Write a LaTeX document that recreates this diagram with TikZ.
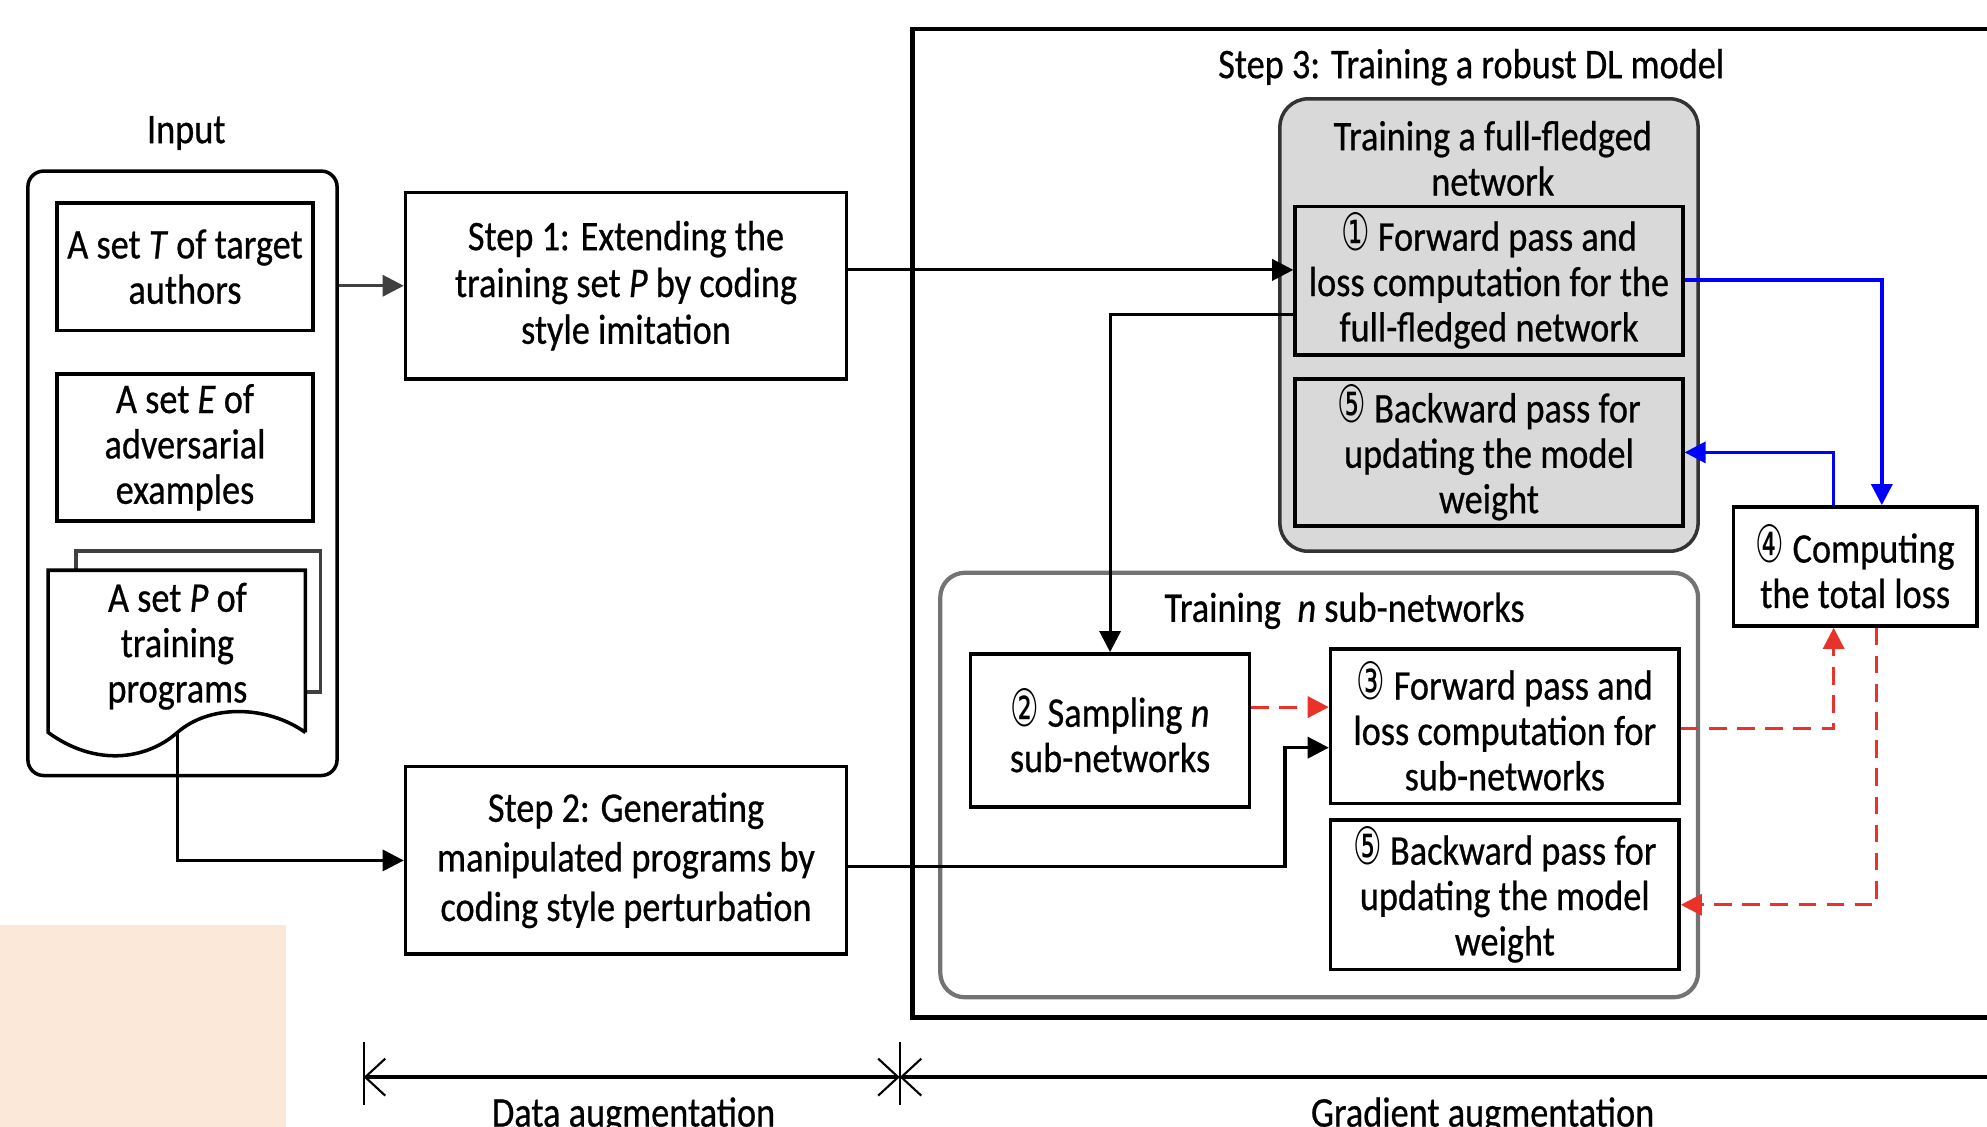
\documentclass[tikz,border=0pt]{standalone}
\usepackage{fontspec}
\setmainfont{Carlito}[FakeStretch=0.86,FakeBold=0.6]
\newfontfamily\circfont{DejaVu Sans}[FakeStretch=0.62,Scale=1.22]
\usetikzlibrary{arrows.meta,fit}
\definecolor{redd}{HTML}{E8322A}
\definecolor{peach}{HTML}{FCE8D8}
\newcommand{\cnum}[1]{{\circfont #1}}
\begin{document}
\begin{tikzpicture}[x=0.012672cm, y=-0.012672cm,
  every node/.style={font=\fontsize{12}{12.9}\selectfont, align=center},
  bx/.style={draw, line width=1pt, inner sep=0pt},
  arr/.style={line width=0.9pt, -{Triangle[length=6pt,width=6pt]}},
  rarr/.style={draw=redd, line width=0.9pt, dash pattern=on 5pt off 3pt, -{Triangle[length=6pt,width=6pt]}},
  barr/.style={draw=blue, line width=1pt, -{Triangle[length=6pt,width=6pt]}},
  mybarb/.tip={Straight Barb[length=0.2cm,width=0.37cm,line width=0.6pt]}
]
\useasboundingbox (0,0) rectangle (1568,889);
\clip (0,0) rectangle (1568,889);
\fill[peach] (0,730) rectangle (226,889);

% Input
\node at (147,105) (inlabel) {Input};
\node[bx, rounded corners=4.5pt, fit={(22,135)(266,612)}] (inbox) {};
\node[bx, fit={(45,160)(247,261)}] (setT) {};
\node at (setT.center) (setTt) {A set \textit{T} of target\\authors};
\node[bx, fit={(45,295)(247,411)}] (setE) {};
\node at (setE.center) (setEt) {A set \textit{E} of\\adversarial\\examples};
\draw[line width=1pt, black!75] (60,450) -- (60,435) -- (253,435) -- (253,546) -- (241,546);
\draw[line width=1pt, fill=white] (241,578) -- (241,450) -- (38,450) -- (38,578)
  .. controls (75,605) and (115,600) .. (140,578)
  .. controls (165,556) and (210,556) .. (241,578);
\coordinate (pw) at (140,578);
\node at (140,510) (setP) {A set \textit{P} of\\training\\programs};

% Steps 1 and 2
\node[bx, fit={(320,152)(668,299)}] (step1) {};
\node at (step1.center) (step1t) {Step 1: Extending the\\[0.4pt]training set \textit{P} by coding\\[0.4pt]style imitation};
\node[bx, fit={(320,605)(668,753)}] (step2) {};
\node at (step2.center) (step2t) {Step 2: Generating\\[1.2pt]manipulated programs by\\[1.2pt]coding style perturbation};

% Step 3
\node[draw, line width=1.2pt, inner sep=0pt, fit={(720,23)(1620,803)}] (s3) {};
\node at (1161,53) (s3t) {Step 3: Training a robust DL model};
\node[draw=black!80, fill=gray!30, line width=1pt, rounded corners=8pt, inner sep=0pt, fit={(1010,78)(1340,435)}] (ffbox) {};
\node at (1178,125) (fft) {Training a full-fledged\\network};
\node[bx, fill=gray!30, fit={(1022,163)(1328,280)}] (ff1) {};
\node at (ff1.center) (ff1t) {\cnum{①} Forward pass and\\loss computation for the\\full-fledged network};
\node[bx, fill=gray!30, fit={(1022,299)(1328,415)}] (fb) {};
\node at (fb.center) (fbt) {\cnum{⑤} Backward pass for\\updating the model\\weight};
\node[draw=black!55, line width=1.2pt, rounded corners=7pt, inner sep=0pt, fit={(742,452)(1340,787)}] (sbox) {};
\node at (1061,482) (sbt) {Training~~\textit{n} sub-networks};
\node[bx, fit={(766,516)(986,637)}] (samp) {};
\node at (samp.center) (sampt) {\cnum{②} Sampling \textit{n}\\sub-networks};
\node[bx, fit={(1050,512)(1325,634)}] (sf) {};
\node at (sf.center) (sft) {\cnum{③} Forward pass and\\loss computation for\\sub-networks};
\node[bx, fit={(1050,647)(1325,765)}] (sb) {};
\node at (sb.center) (sbt2) {\cnum{⑤} Backward pass for\\updating the model\\weight};
\node[bx, fit={(1368,400)(1560,494)}] (tot) {};
\node at (tot.center) (tott) {\cnum{④} Computing\\the total loss};

% connectors
\draw[arr, black!75] (inbox.east |- step1.west) -- (step1.west);
\draw[arr] (step1.east |- 0,213) -- (ff1.west |- 0,213);
\draw[arr] (ff1.west |- 0,248) -| (samp.north);
\draw[arr] (pw) |- (step2.west);
\draw[arr] (step2.east |- 0,684) -| (1014,590) -- (sf.west |- 0,590);
\draw[rarr] (samp.east |- 0,558) -- (sf.west |- 0,558);
\draw[rarr] (sf.east |- 0,575) -| (1447,0 |- tot.south);
\draw[rarr] (1481,0 |- tot.south) |- (sb.east |- 0,714);
\draw[barr] (ff1.east |- 0,221) -| (1485,0 |- tot.north);
\draw[barr] (1447,0 |- tot.north) |- (fb.east |- 0,357);

% axis
\coordinate (a0) at (287,850);
\coordinate (a1) at (710,850);
\coordinate (a2) at (1600,850);
\draw[line width=0.6pt] (287,822) -- (287,872);
\draw[line width=0.6pt] (710,822) -- (710,872);
\draw[line width=1pt, mybarb-mybarb] (a0) -- (a1);
\draw[line width=1pt, mybarb-] (a1) -- (a2);
\node[anchor=base] at (500,889) (da) {Data augmentation};
\node[anchor=base] at (1170,889) (ga) {Gradient augmentation};
\end{tikzpicture}
\end{document}
